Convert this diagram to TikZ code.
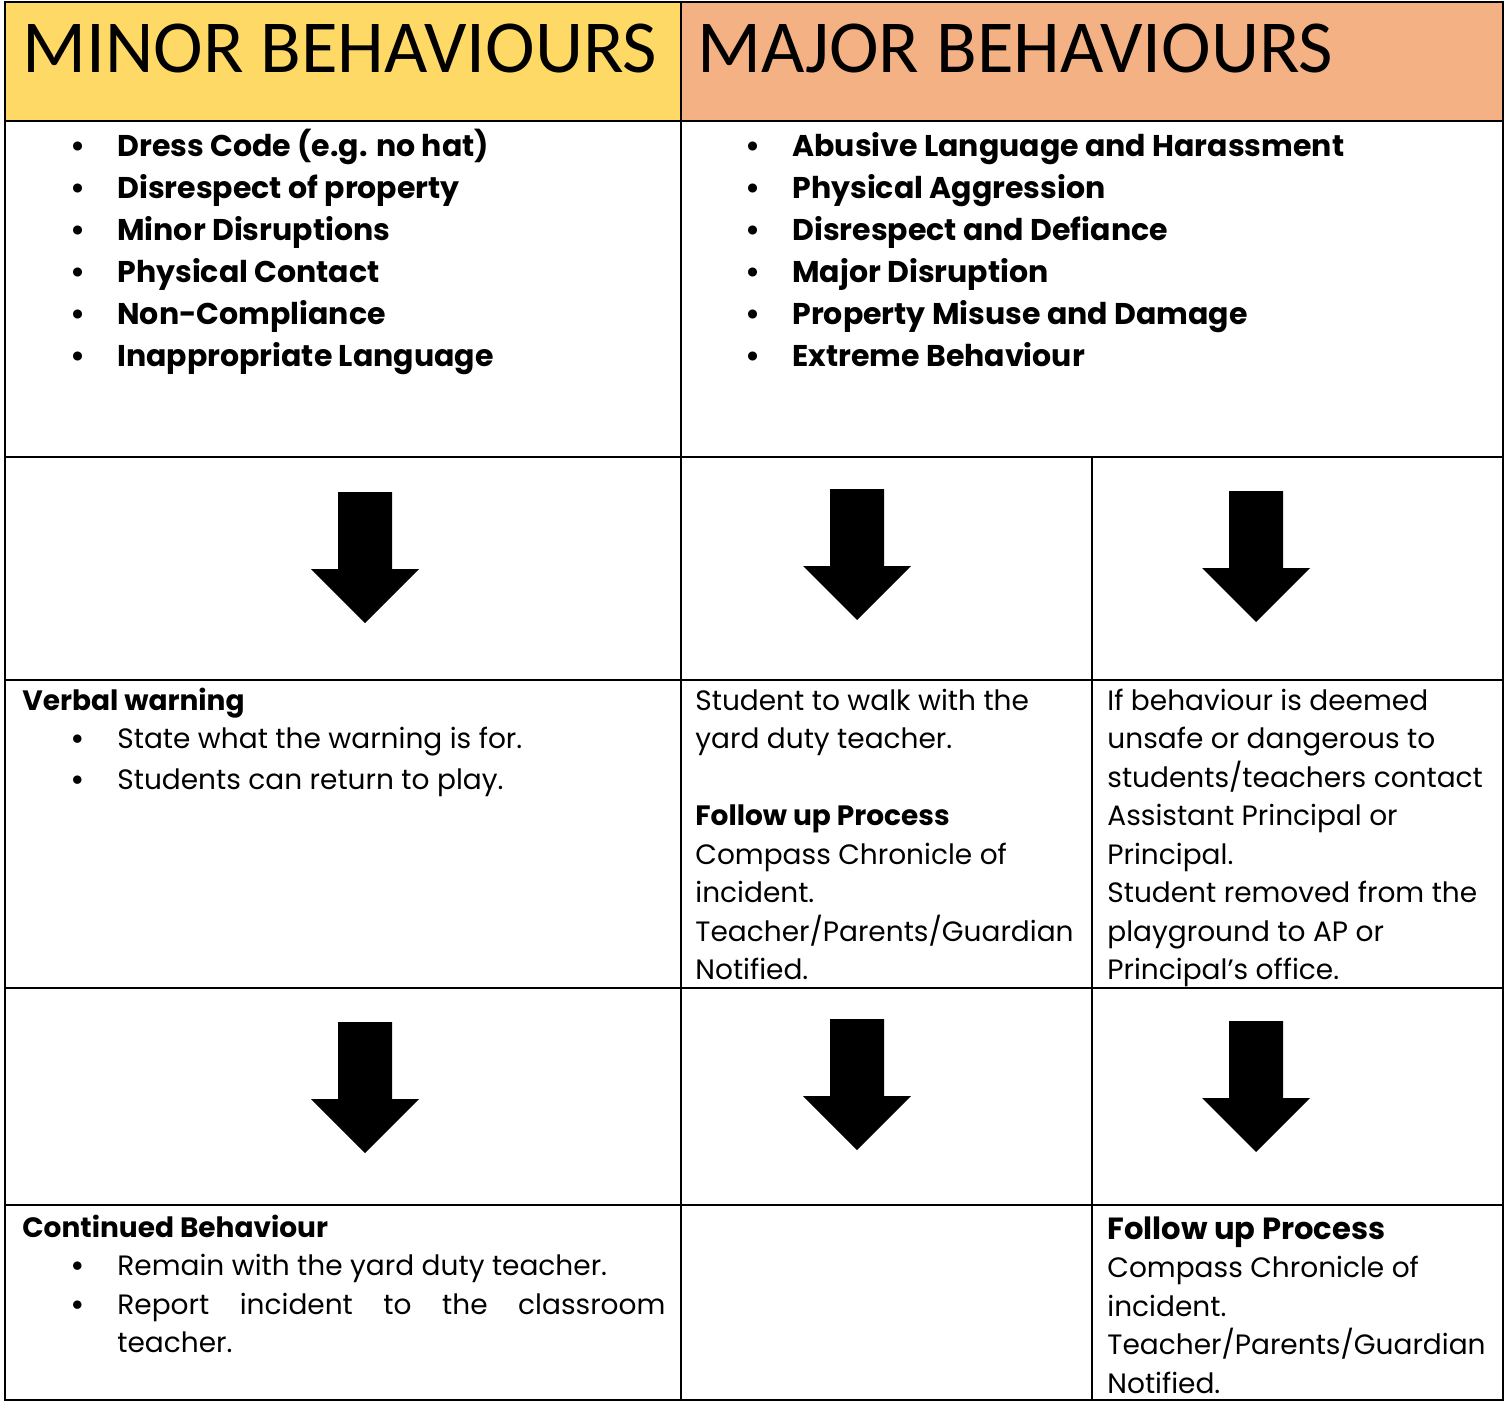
\documentclass[tikz,border=0pt]{standalone}
\usepackage{fontspec}
\setmainfont{Poppins}
\newfontfamily\headfont{Carlito}
\definecolor{minoryellow}{HTML}{FFD966}
\definecolor{majororange}{HTML}{F4B183}
\newcommand{\bul}{\hspace*{24pt}\makebox[23.5pt][l]{\bfseries\textbullet}}

\begin{document}
\begin{tikzpicture}[x=0.5pt, y=-0.5pt,
	rule/.style={line width=1pt, black},
	headtext/.style={anchor=base west, inner sep=0pt, font=\headfont\fontsize{37.4}{44}\selectfont},
	listtext/.style={anchor=north west, inner sep=0pt, align=left, font=\fontsize{15}{21}\selectfont\bfseries},
	celltext/.style={anchor=north west, inner sep=0pt, align=left, font=\fontsize{14}{19.25}\selectfont},
	blockarrow/.style={fill=black}]

	\useasboundingbox (0,0) rectangle (1505,1402);

	% header cells
	\fill[minoryellow] (5,2) rectangle (681,121);
	\fill[majororange] (681,2) rectangle (1503,121);

	% table rules
	\draw[rule] (5,2) rectangle (1503,1400);
	\foreach \ry in {121, 457, 680, 988, 1205}
		\draw[rule] (5,\ry) -- (1503,\ry);
	\draw[rule] (681,2) -- (681,1400);
	\draw[rule] (1092,457) -- (1092,1400);

	% down arrows
	\foreach \cx/\ty in {365/492, 857/489, 1256/491, 365/1022, 857/1019, 1256/1021}
		\fill[blockarrow] (\cx-27,\ty) -- (\cx+27,\ty) -- (\cx+27,\ty+77) -- (\cx+54,\ty+77)
			-- (\cx,\ty+131) -- (\cx-54,\ty+77) -- (\cx-27,\ty+77) -- cycle;

	% headings
	\node[headtext] (minorhead) at (22,73) {MINOR BEHAVIOURS};
	\node[headtext] (majorhead) at (697,73) {MAJOR BEHAVIOURS};

	% behaviour lists
	\node[listtext] (minorlist) at (22,127) {\strut\bul Dress Code (e.g. no hat)\\
		\bul Disrespect of property\\
		\bul Minor Disruptions\\
		\bul Physical Contact\\
		\bul Non-Compliance\\
		\bul Inappropriate Language};
	\node[listtext] (majorlist) at (697,127) {\strut\bul Abusive Language and Harassment\\
		\bul Physical Aggression\\
		\bul Disrespect and Defiance\\
		\bul Major Disruption\\
		\bul Property Misuse and Damage\\
		\bul Extreme Behaviour};

	% first responses
	\node[celltext] (minoraction) at (22,683) {\strut\textbf{Verbal warning}\\
		\bul State what the warning is for.\\[1pt]
		\bul Students can return to play.};
	\node[celltext] (majoraction) at (695,683) {\strut Student to walk with the\\
		yard duty teacher.\\
		\mbox{}\\
		\textbf{Follow up Process}\\
		Compass Chronicle of\\
		incident.\\
		Teacher/Parents/Guardian\\
		Notified.};
	\node[celltext] (unsafeaction) at (1107,683) {\strut If behaviour is deemed\\
		unsafe or dangerous to\\
		students/teachers contact\\
		Assistant Principal or\\
		Principal.\\
		Student removed from the\\
		playground to AP or\\
		Principal’s office.};

	% follow up
	\node[celltext] (minorfollow) at (22,1210) {\strut\textbf{Continued Behaviour}\\
		\bul Remain with the yard duty teacher.\\
		\bul\makebox[274pt][s]{Report incident to the classroom}\\
		\hspace*{47.5pt}teacher.};
	\node[celltext] (unsafefollow) at (1107,1212) {\strut{\fontsize{15.3}{19.25}\selectfont\bfseries Follow up Process}\\
		Compass Chronicle of\\
		incident.\\
		Teacher/Parents/Guardian\\
		Notified.};

\end{tikzpicture}
\end{document}
